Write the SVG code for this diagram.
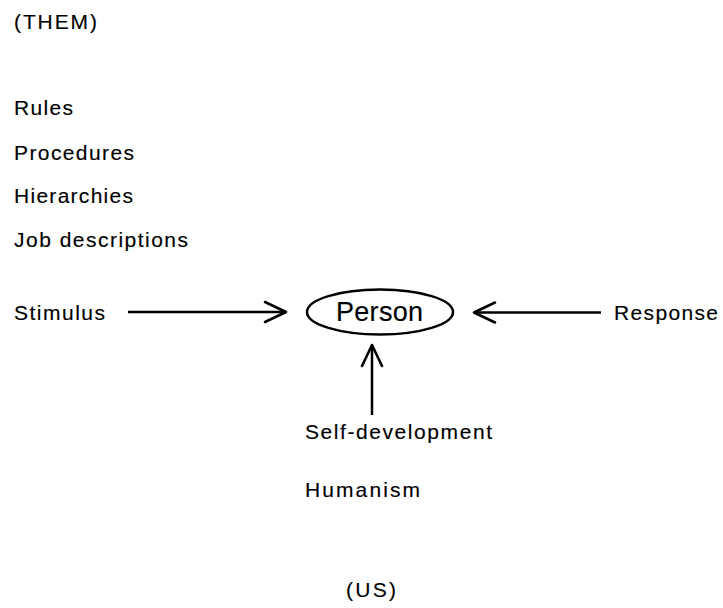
<svg xmlns="http://www.w3.org/2000/svg" width="723" height="608" viewBox="0 0 723 608">
  <style>
    text { font-family: "Liberation Sans", Arial, sans-serif; font-size: 21px; fill: #000; stroke: #000; stroke-width: 0.15px; }
    .big { font-size: 27px; }
    .conn { stroke: #000; stroke-width: 2.5; fill: none; }
    .shape { stroke: #000; stroke-width: 2.5; fill: #fff; }
  </style>
  <defs>
    <marker id="chev" markerUnits="userSpaceOnUse" markerWidth="30" markerHeight="30" viewBox="-26 -15 30 30" refX="0" refY="0" orient="auto">
      <path d="M-21,-10 L0,0 L-21,10" fill="none" stroke="#000" stroke-width="2.6" stroke-linejoin="round" stroke-linecap="round"/>
    </marker>
  </defs>

  <rect width="723" height="608" fill="#fff"/>

  <g id="label-them"><text x="14" y="28.5" textLength="83">(THEM)</text></g>

  <g id="list-structures">
    <text x="14" y="115" textLength="59">Rules</text>
    <text x="14" y="160" textLength="120">Procedures</text>
    <text x="14" y="203" textLength="119">Hierarchies</text>
    <text x="14" y="247" textLength="174">Job descriptions</text>
  </g>

  <g id="node-stimulus"><text x="14" y="319.5" textLength="91">Stimulus</text></g>

  <g id="node-person">
    <ellipse class="shape" cx="380" cy="312" rx="73" ry="22.5"/>
    <text class="big" x="336" y="321" textLength="87">Person</text>
  </g>

  <g id="node-response"><text x="614" y="320" textLength="104">Response</text></g>

  <g id="node-self-development"><text x="305" y="439" textLength="187">Self-development</text></g>

  <g id="node-humanism"><text x="305" y="497" textLength="115">Humanism</text></g>

  <g id="label-us"><text x="346" y="597" textLength="50">(US)</text></g>

  <g id="connectors">
    <line class="conn" x1="128" y1="312" x2="286" y2="312" marker-end="url(#chev)"/>
    <line class="conn" x1="601" y1="312.5" x2="474" y2="312.5" marker-end="url(#chev)"/>
    <line class="conn" x1="372" y1="415" x2="372" y2="345" marker-end="url(#chev)"/>
  </g>
</svg>
